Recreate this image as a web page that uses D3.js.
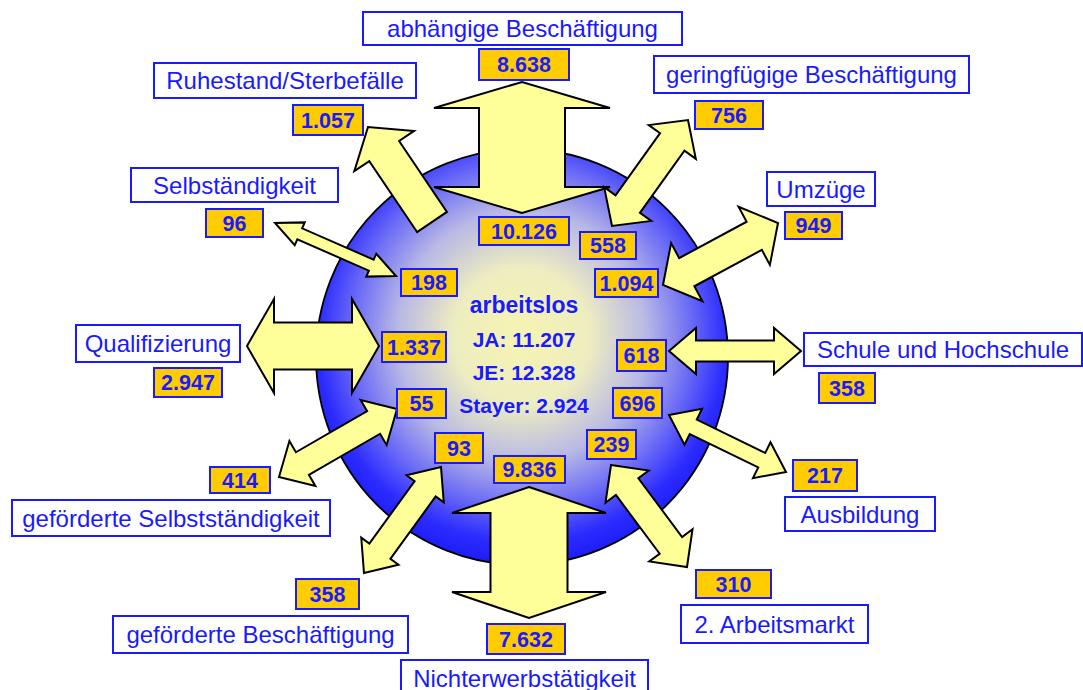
<!DOCTYPE html>
<html>
<head>
<meta charset="utf-8">
<script src="https://cdn.jsdelivr.net/npm/d3@7"></script>
<style>
  body { margin: 0; background: #fff; }
  text { font-family: "Liberation Sans", Arial, sans-serif; }
</style>
</head>
<body>
<script>
var w = 1083;
var h = 690;

//Data
var flowLabels = ["abhängige Beschäftigung", "geringfügige Beschäftigung", "Umzüge",
    "Schule und Hochschule", "Ausbildung", "2. Arbeitsmarkt", "Nichterwerbstätigkeit",
    "geförderte Beschäftigung", "geförderte Selbstständigkeit", "Qualifizierung",
    "Selbständigkeit", "Ruhestand/Sterbefälle"];
var outerValues = [8638, 756, 949, 358, 217, 310, 7632, 358, 414, 2947, 96, 1057];
var innerValues = [10126, 558, 1094, 618, 696, 239, 9836, 93, 55, 1337, 198, null];
var centerTitle = "arbeitslos";
var centerLabels = ["JA", "JE", "Stayer"];
var centerValues = [11207, 12328, 2924];

//Layout of the diagram (boxes: x, y, width, height; arrows: end a, end b, half widths)
var labelBoxes = [[363,12,319,33], [654,56,315,37], [767,172,108,34], [804,333,278,33],
    [785,497,150,34], [681,605,187,38], [401,660,247,36], [113,616,295,37],
    [12,500,318,36], [76,325,164,37], [131,168,207,34], [154,63,262,35]];
var outerBoxes = [[479,49,90,31], [695,101,68,28], [785,212,57,27], [819,373,56,30],
    [793,460,64,31], [696,570,75,28], [487,624,78,30], [296,579,63,30],
    [210,467,60,26], [154,368,68,29], [206,209,57,28], [293,105,70,30]];
var innerBoxes = [[479,217,90,28], [580,232,56,27], [595,269,63,28], [617,340,49,31],
    [613,388,49,30], [587,430,49,29], [494,456,71,27], [435,433,48,30],
    [397,389,49,29], [382,332,64,30], [401,269,56,27], null];
var arrows = [
    {a:[522,213], b:[522,82],  sw:43,  hw:88, hl:26, heads:2},
    {a:[612,226], b:[688,120], sw:15,  hw:29, hl:27, heads:2},
    {a:[663,285], b:[778,223], sw:16,  hw:33, hl:27, heads:2},
    {a:[669,351], b:[801,351], sw:10.5,hw:23, hl:27, heads:2},
    {a:[669,415], b:[786,472], sw:8,   hw:20, hl:27, heads:2},
    {a:[611,465], b:[687,567], sw:14,  hw:27, hl:27, heads:2},
    {a:[529,487], b:[529,618], sw:38.5,hw:77, hl:26, heads:2},
    {a:[441,467], b:[364,573], sw:13,  hw:23, hl:27, heads:2},
    {a:[397,409], b:[279,477], sw:13,  hw:26, hl:27, heads:2},
    {a:[379,346], b:[247,346], sw:23.5,hw:47, hl:27, heads:2},
    {a:[396,276], b:[275,223], sw:6,   hw:12.5,hl:27, heads:2},
    {a:[432,222], b:[368,127], sw:18,  hw:36, hl:29, heads:1}
];
var circle = {cx:522, cy:357, rx:206, ry:208};

var de = d3.formatLocale({decimal: ",", thousands: ".", grouping: [3], currency: ["", " €"]});
var fmt = de.format(",d");

var blue = "#1a1aff";

//Create SVG element
var svg = d3.select("body")
            .append("svg")
            .attr("width", w)
            .attr("height", h);

//Radial gradient for the centre
var grad = svg.append("defs")
    .append("radialGradient")
    .attr("id", "glow")
    .attr("cx", "50%").attr("cy", "45%").attr("r", "55%");
grad.selectAll("stop")
    .data([[0, "#f6f4b0"], [0.3, "#eeedc0"], [0.55, "#b8b8e6"], [0.75, "#6a6af6"], [0.9, "#2c2cff"], [1, "#1c1cf8"]])
    .enter()
    .append("stop")
    .attr("offset", function(d){ return d[0]; })
    .attr("stop-color", function(d){ return d[1]; });

svg.append("ellipse")
    .attr("cx", circle.cx)
    .attr("cy", circle.cy)
    .attr("rx", circle.rx)
    .attr("ry", circle.ry)
    .attr("fill", "url(#glow)")
    .attr("stroke", "#000")
    .attr("stroke-width", 1.8);

//Block arrow outline from end a to end b
function arrowPoints(d) {
    var dx = d.b[0] - d.a[0], dy = d.b[1] - d.a[1];
    var L = Math.sqrt(dx * dx + dy * dy);
    var ux = dx / L, uy = dy / L, nx = -uy, ny = ux;
    var local;
    if (d.heads == 2) {
        local = [[0,0], [d.hl,-d.hw], [d.hl,-d.sw], [L-d.hl,-d.sw], [L-d.hl,-d.hw], [L,0],
                 [L-d.hl,d.hw], [L-d.hl,d.sw], [d.hl,d.sw], [d.hl,d.hw]];
    } else {
        local = [[0,-d.sw], [L-d.hl,-d.sw], [L-d.hl,-d.hw], [L,0], [L-d.hl,d.hw], [L-d.hl,d.sw], [0,d.sw]];
    }
    return local.map(function(p){
        return [d.a[0] + p[0] * ux + p[1] * nx, d.a[1] + p[0] * uy + p[1] * ny];
    });
}

svg.selectAll("polygon.arrow")
    .data(arrows)
    .enter()
    .append("polygon")
    .attr("class", "arrow")
    .attr("points", function(d){ return arrowPoints(d).map(function(p){ return p.join(","); }).join(" "); })
    .attr("fill", "#ffff99")
    .attr("stroke", "#000")
    .attr("stroke-width", 2)
    .attr("stroke-linejoin", "miter");

//Boxes with text
function drawBoxes(cls, boxes, texts, fill, size, weight) {
    var items = boxes.map(function(b, i){ return {b: b, t: texts[i]}; })
                     .filter(function(d){ return d.b && d.t != null; });
    var g = svg.selectAll("g." + cls)
        .data(items)
        .enter()
        .append("g")
        .attr("class", cls);
    g.append("rect")
        .attr("x", function(d){ return d.b[0]; })
        .attr("y", function(d){ return d.b[1]; })
        .attr("width", function(d){ return d.b[2]; })
        .attr("height", function(d){ return d.b[3]; })
        .attr("fill", fill)
        .attr("stroke", blue)
        .attr("stroke-width", 2);
    g.append("text")
        .attr("x", function(d){ return d.b[0] + d.b[2] / 2; })
        .attr("y", function(d){ return d.b[1] + d.b[3] / 2 + size * 0.36; })
        .attr("text-anchor", "middle")
        .attr("font-size", size + "px")
        .attr("font-weight", weight)
        .attr("fill", blue)
        .text(function(d){ return d.t; });
}

drawBoxes("label", labelBoxes, flowLabels, "#fff", 24, "normal");
drawBoxes("outer", outerBoxes, outerValues.map(fmt), "#ffcc00", 21.5, "bold");
drawBoxes("inner", innerBoxes, innerValues.map(function(v){ return v == null ? null : fmt(v); }), "#ffcc00", 21.5, "bold");

//Centre text
var lines = [centerTitle].concat(centerLabels.map(function(l, i){ return l + ": " + fmt(centerValues[i]); }));
svg.selectAll("text.center")
    .data(lines)
    .enter()
    .append("text")
    .attr("class", "center")
    .attr("x", 524)
    .attr("y", function(d, i){ return [313, 347, 380, 413][i]; })
    .attr("text-anchor", "middle")
    .attr("font-size", function(d, i){ return i == 0 ? "23px" : "21px"; })
    .attr("font-weight", "bold")
    .attr("fill", blue)
    .text(function(d){ return d; });
</script>
</body>
</html>
